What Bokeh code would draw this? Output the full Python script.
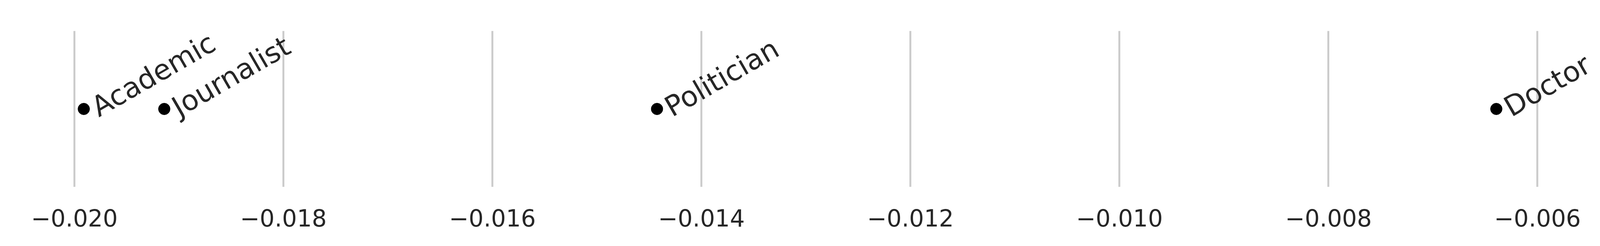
from bokeh.core.properties import value
from bokeh.embed import file_html
from bokeh.models import ColumnDataSource, FixedTicker, Range1d
from bokeh.plotting import figure
from bokeh.resources import INLINE

# occupations and their scores
occupations = ["Academic", "Journalist", "Politician", "Doctor"]
scores = [-0.01991, -0.01914, -0.014425, -0.006394]
row = [0.0, 0.0, 0.0, 0.0]

tick_values = [-0.020, -0.018, -0.016, -0.014, -0.012, -0.010, -0.008, -0.006]
tick_labels = ["\u22120.020", "\u22120.018", "\u22120.016", "\u22120.014",
               "\u22120.012", "\u22120.010", "\u22120.008", "\u22120.006"]

src = ColumnDataSource(data=dict(x=scores, y=row, label=occupations))

# the window turned out narrower than asked, so the figure stretches to whatever width it gets
p = figure(height=625, sizing_mode="stretch_width", output_backend="svg", toolbar_location=None,
           x_range=Range1d(-0.020594, -0.0054), y_range=Range1d(-0.200, 0.259),
           min_border_left=31, min_border_right=0, min_border_top=20,
           min_border_bottom=146)
p.outline_line_color = None
p.yaxis.visible = False
p.ygrid.visible = False

p.xaxis.ticker = FixedTicker(ticks=tick_values)
p.xaxis.major_label_overrides = dict(zip(tick_values, tick_labels))
p.xaxis.axis_line_color = None
p.xaxis.major_tick_line_color = None
p.xaxis.minor_tick_line_color = None
p.xaxis.major_label_standoff = 50
p.xaxis.major_label_text_font = "DejaVu Sans"
p.xaxis.major_label_text_font_size = "60px"
p.xaxis.major_label_text_color = "#262626"

p.xgrid.ticker = FixedTicker(ticks=tick_values)
p.xgrid.grid_line_color = "#cccccc"
p.xgrid.grid_line_width = 5
p.xgrid.cross_bounds = (-0.2, 0.2)

p.scatter("x", "y", source=src, size=30, color="black")
p.text("x", "y", text="label", source=src, angle=30, angle_units="deg",
       x_offset=26, y_offset=0, text_align="left", text_baseline="alphabetic",
       text_font=value("DejaVu Sans"), text_font_size="72px", text_color="#262626")

open("out.html", "w").write(file_html(p, INLINE))
